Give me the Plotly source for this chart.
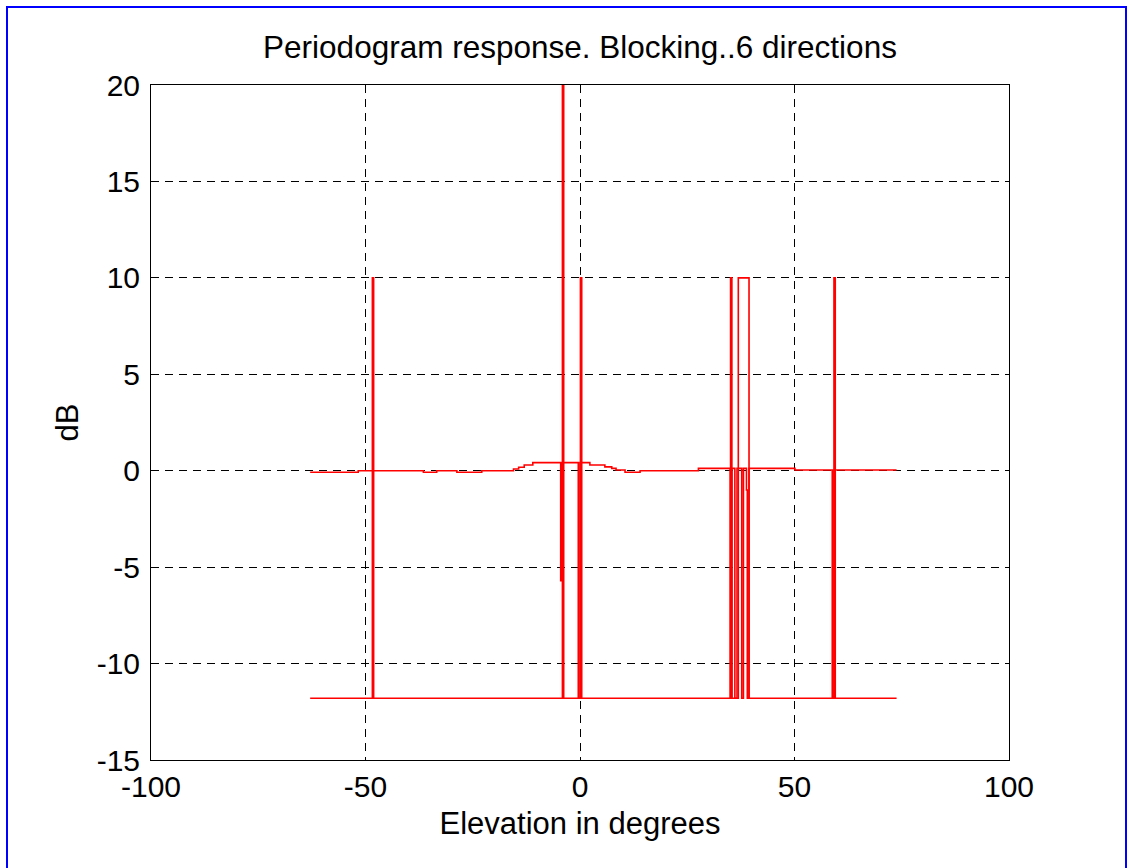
import plotly.graph_objects as go

# Periodogram response of the beamformer (dB) versus elevation, stepwise
elev_resp = [-62.9, -51.7, -36.5, -33.4, -28.7, -22.9, -15.5, -14.3, -13.0, -11.0,
             -4.5, -4.2, -0.4, 0.0, 2.3, 5.8, 7.4, 8.4, 10.5, 14.0, 27.6,
             35.0, 35.4, 36.1, 36.6, 37.7, 38.1, 38.8, 39.0, 39.4, 50.1,
             58.8, 59.2, 73.8]
db_resp = [-0.08, 0.0, -0.08, 0.0, -0.08, 0.0, 0.09, 0.18, 0.3, 0.42,
           -5.7, 0.42, -11.8, 0.42, 0.3, 0.2, 0.12, 0.04, -0.08, 0.0, 0.12,
           -11.8, 0.12, -11.8, 0.12, -11.8, 0.12, -1.0, -11.8, 0.12, 0.04,
           -11.8, 0.04, 0.04]

# Blocking pattern: floor level with peaks at the blocked directions
elev_block = [-62.9, -48.4, -48.1, -4.1, -3.8, 0.1, 0.4, 35.1, 35.4,
              36.9, 39.4, 59.2, 59.5, 73.8]
db_block = [-11.8, 10.0, -11.8, 22.0, -11.8, 10.0, -11.8, 10.0, -11.8,
            10.0, -11.8, 10.0, -11.8, -11.8]

x_ticks = [-100, -50, 0, 50, 100]
x_labels = ["-100", "-50", "0", "50", "100"]
y_ticks = [-15, -10, -5, 0, 5, 10, 15, 20]
y_labels = ["-15", "-10", "-5", "0", "5", "10", "15", "20"]

FONT = "Liberation Sans, Arial, sans-serif"
RED = "#ff0000"

fig = go.Figure()
fig.add_trace(go.Scatter(x=elev_resp, y=db_resp, mode="lines", line_shape="hv",
                         line=dict(color=RED, width=1.6), showlegend=False))
fig.add_trace(go.Scatter(x=elev_block, y=db_block, mode="lines", line_shape="hv",
                         line=dict(color=RED, width=1.6), showlegend=False))

axis_common = dict(
    showgrid=True, gridcolor="black", gridwidth=1, griddash="8px,6px",
    zeroline=False, showline=True, linecolor="black", linewidth=1, mirror=True,
    ticks="", tickfont=dict(family=FONT, size=30, color="black"),
)

fig.update_xaxes(range=[-100, 100], tickvals=x_ticks, ticktext=x_labels,
                 ticklabelstandoff=0,
                 title=dict(text="Elevation in degrees", standoff=10,
                            font=dict(family=FONT, size=31, color="black")),
                 **axis_common)
fig.update_yaxes(range=[-15, 20], tickvals=y_ticks, ticktext=y_labels,
                 ticklabelstandoff=4,
                 title=dict(text="dB", standoff=8,
                            font=dict(family=FONT, size=31, color="black")),
                 **axis_common)

# Blue window frame around the figure
fig.add_shape(type="rect", xref="paper", yref="paper",
              x0=(7 - 151) / 858, x1=(1126 - 151) / 858,
              y0=(760 - 870) / 675, y1=(760 - 7) / 675,
              line=dict(color="#0000ff", width=2), fillcolor="rgba(0,0,0,0)", layer="above")

fig.update_layout(
    width=1128, height=868, autosize=False,
    margin=dict(l=151, r=119, t=85, b=108),
    paper_bgcolor="white", plot_bgcolor="white",
    title=dict(text="Periodogram response. Blocking..6 directions",
               x=(580 / 1128), xanchor="center", y=1 - 47 / 868, yanchor="middle",
               font=dict(family=FONT, size=31.5, color="black")),
)

fig.write_html("out.html")
